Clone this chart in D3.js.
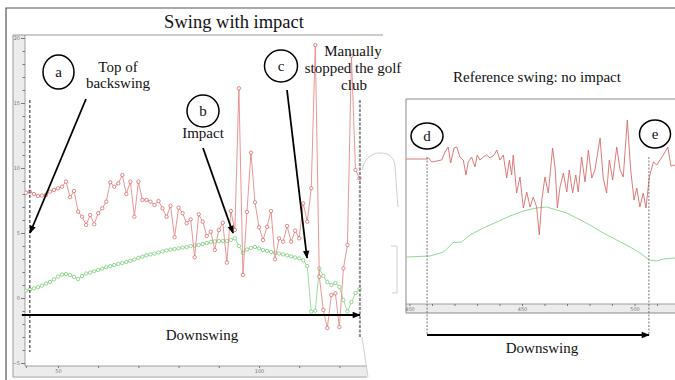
<!DOCTYPE html>
<html>
<head>
<meta charset="utf-8">
<script src="https://cdn.jsdelivr.net/npm/d3@7"></script>
<style>
  body { margin: 0; background: #fff; }
  svg { display: block; }
  .serif { font-family: "Liberation Serif", "Times New Roman", serif; fill: #111; }
  .tick text { font-family: "DejaVu Sans", sans-serif; }
</style>
</head>
<body>
<svg id="chart" width="675" height="380"></svg>
<script>
// ---------------- data ----------------
// Swing with impact: one sample per frame
const impactSamples = d3.range(42, 126);
const impactRed = [
  8.10, 8.18, 8.00, 7.85, 7.88, 7.92, 8.18, 8.31, 8.44, 8.56,
  8.95, 7.75, 8.23, 6.64, 6.25, 5.62, 6.38, 5.67, 6.52, 6.90,
  7.41, 8.90, 8.56, 8.82, 9.46, 8.00, 8.95, 6.25, 8.95, 7.54,
  7.54, 7.41, 7.15, 7.46, 6.90, 6.25, 7.10, 4.67, 6.95, 6.52,
  5.75, 6.05, 3.13, 6.44, 5.87, 4.77, 5.10, 3.69, 5.23, 5.79,
  2.72, 6.69, 5.23, 16.13, 1.77, 6.62, 11.18, 7.36, 5.44, 4.46,
  5.48, 6.69, 2.98, 4.59, 4.33, 5.54, 4.33, 5.18, 4.59, 7.28,
  5.87, 8.44, 19.46, 1.64, -0.92, -2.31, 0.23, 0.36, -2.23, 2.28,
  4.08, 18.62, 9.85, 9.21
];
const impactGreen = [
  0.56, 0.65, 0.75, 0.83, 0.95, 1.11, 1.23, 1.44, 1.65, 1.80,
  1.85, 1.77, 1.62, 1.46, 1.69, 1.88, 1.96, 2.06, 2.15, 2.26,
  2.37, 2.45, 2.54, 2.62, 2.69, 2.77, 2.85, 2.96, 3.08, 3.18,
  3.28, 3.35, 3.42, 3.50, 3.58, 3.66, 3.72, 3.77, 3.82, 3.88,
  3.92, 4.00, 4.04, 4.08, 4.15, 4.23, 4.31, 4.35, 4.38, 4.38,
  4.38, 4.46, 4.59, 4.00, 3.46, 3.73, 3.85, 3.92, 3.81, 3.69,
  3.62, 3.54, 3.48, 3.42, 3.35, 3.28, 3.20, 3.12, 3.05, 2.90,
  2.46, -1.05, -0.98, 2.28, 1.69, 1.23, 1.00, 1.15, 0.85, -0.15,
  -1.05, -0.31, 0.38, 0.67
];
const impactXLabels = [50, 100];
const impactYLabels = [-5, 0, 5, 10, 15, 20];
const impactStart = 43.0;   // top of backswing
const impactStop = 125.1;   // club stopped

// Reference swing (no impact)
const refRedX = [
  398.4, 407.9, 408.5, 409.9, 412.1, 414.3, 415.8, 417.2, 418.3, 419.8,
  421.0, 422.4, 423.9, 425.1, 426.1, 427.6, 429.1, 430.1, 431.3, 432.8,
  434.3, 435.8, 437.6, 438.8, 440.2, 441.7, 443.2, 444.4, 445.4, 446.1,
  447.6, 449.1, 450.6, 452.1, 453.6, 455.0, 456.5, 457.7, 458.8, 460.2,
  461.7, 463.6, 464.8, 465.7, 466.9, 468.4, 469.9, 471.0, 472.5, 473.9,
  475.0, 476.5, 478.0, 479.5, 481.0, 482.4, 484.7, 486.1, 487.6, 488.8,
  490.3, 492.1, 493.6, 495.0, 496.8, 498.3, 499.8, 501.0, 502.4, 503.9,
  505.1, 506.6, 508.4, 509.9, 511.3, 512.8, 514.8, 516.2, 518.0
];
const refRed = [
  12.1, 12.1, 12.2, 11.8, 11.9, 12.0, 12.8, 13.3, 11.7, 13.2,
  13.3, 12.3, 12.0, 10.5, 11.8, 12.3, 11.3, 12.5, 12.0, 12.3,
  12.5, 12.2, 12.5, 13.0, 12.0, 12.5, 10.2, 12.0, 10.5, 12.5,
  8.7, 10.3, 7.2, 8.8, 7.3, 8.3, 7.3, 4.5, 8.0, 10.3,
  8.7, 13.2, 11.0, 7.2, 9.3, 10.7, 8.8, 11.0, 8.7, 10.5,
  8.8, 12.3, 9.8, 13.0, 10.2, 11.0, 14.2, 10.2, 8.7, 12.0,
  10.0, 13.3, 11.0, 10.3, 16.0, 11.0, 8.0, 9.2, 7.3, 8.7,
  7.2, 10.3, 11.8, 11.5, 12.0, 12.5, 13.3, 11.4, 11.5
];
const refGreenX = [
  398.4, 409.1, 415.0, 418.0, 419.3, 423.2, 426.9, 432.8, 438.8, 444.7,
  450.6, 456.5, 461.0, 465.4, 469.9, 474.3, 480.2, 486.1, 492.1, 498.0,
  502.4, 506.6, 509.9, 512.8, 518.0
];
const refGreen = [
  2.3, 2.4, 2.8, 3.4, 3.75, 3.8, 4.5, 5.2, 5.8, 6.4,
  6.9, 7.2, 7.3, 7.0, 6.7, 6.2, 5.5, 4.7, 4.0, 3.3,
  2.7, 2.0, 1.9, 2.1, 2.2
];
const refXLabels = [400, 450, 500];
const refStart = 407.8;
const refEnd = 506.4;

// ---------------- colours ----------------
const RED_LINE = "#e58a8a", RED_DOT = "#d45a5a";
const GREEN_LINE = "#93d993", GREEN_DOT = "#6cc56c";

const svg = d3.select("#chart");
const defs = svg.append("defs");
defs.append("marker")
  .attr("id", "arrow").attr("viewBox", "0 0 10 10")
  .attr("refX", 9).attr("refY", 5)
  .attr("markerWidth", 9).attr("markerHeight", 8)
  .attr("markerUnits", "userSpaceOnUse").attr("orient", "auto")
  .append("path").attr("d", "M0,1L10,5L0,9Z").attr("fill", "#000");

// outer frame
svg.append("path").attr("d", "M6,380V8H675")
  .attr("fill", "none").attr("stroke", "#555").attr("stroke-width", 1.2);

// ================= left window: swing with impact =================
const xL = d3.scaleLinear().domain([50, 100]).range([58, 259]);
const yL = d3.scaleLinear().domain([0, 20]).range([298, 38]);

svg.append("rect").attr("x", 13).attr("y", 35).attr("width", 12).attr("height", 341).attr("fill", "#ececec");
svg.append("rect").attr("x", 13).attr("y", 366).attr("width", 354).attr("height", 10).attr("fill", "#ececec");
svg.append("path").attr("d", "M383,35H13V377H367")
  .attr("fill", "none").attr("stroke", "#9a9a9a").attr("stroke-width", 1);
svg.append("path").attr("d", "M25,35V366H367")
  .attr("fill", "none").attr("stroke", "#8a8a8a").attr("stroke-width", 0.8);

// y axis: labelled every 5, minor ticks every unit
const gyMinor = svg.append("g").attr("transform", "translate(25,0)")
  .call(d3.axisLeft(yL).tickValues(d3.range(-5, 21).filter(v => v % 5 !== 0)).tickSize(2.5).tickFormat(""));
const gy = svg.append("g").attr("transform", "translate(25,0)")
  .call(d3.axisLeft(yL).tickValues(impactYLabels).tickSize(4).tickPadding(1));
[gy, gyMinor].forEach(g => {
  g.select(".domain").remove();
  g.selectAll("line").attr("stroke", "#777");
  g.selectAll("text").attr("font-size", 5).attr("fill", "#777");
});

// x axis
const gx = svg.append("g").attr("transform", "translate(0,366)")
  .call(d3.axisBottom(xL).tickValues([impactSamples[0]].concat(d3.range(50, 121, 10))).tickSize(2).tickPadding(1)
    .tickFormat(d => impactXLabels.includes(d) ? d : ""));
gx.select(".domain").remove();
gx.selectAll("line").attr("stroke", "#777");
gx.selectAll("text").attr("font-size", 5).attr("fill", "#777");

defs.append("clipPath").attr("id", "clipL").append("rect")
  .attr("x", 25).attr("y", 35).attr("width", 345).attr("height", 331);
const plotL = svg.append("g").attr("clip-path", "url(#clipL)");

function series(g, xs, ys, x, y, lineColor, dotColor, dots) {
  const pts = xs.map((d, i) => [d, ys[i]]);
  g.append("path").datum(pts)
    .attr("d", d3.line().x(d => x(d[0])).y(d => y(d[1])))
    .attr("fill", "none").attr("stroke", lineColor).attr("stroke-width", 0.9);
  if (dots) {
    g.selectAll(null).data(pts).enter().append("circle")
      .attr("cx", d => x(d[0])).attr("cy", d => y(d[1])).attr("r", 1.7)
      .attr("fill", "#fff").attr("stroke", dotColor).attr("stroke-width", 0.7);
  }
}
series(plotL, impactSamples, impactGreen, xL, yL, GREEN_LINE, GREEN_DOT, true);
series(plotL, impactSamples, impactRed, xL, yL, RED_LINE, RED_DOT, true);

// start / stop markers
svg.append("line").attr("x1", xL(impactStart)).attr("x2", xL(impactStart)).attr("y1", 100).attr("y2", 352)
  .attr("stroke", "#222").attr("stroke-width", 1).attr("stroke-dasharray", "3,2");
svg.append("line").attr("x1", xL(impactStop)).attr("x2", xL(impactStop)).attr("y1", 100).attr("y2", 337)
  .attr("stroke", "#8c8c8c").attr("stroke-width", 2).attr("stroke-dasharray", "3,1.5");

// magnifier outline between the two windows
const ghost = svg.append("g").attr("fill", "none").attr("stroke", "#c9c9c9").attr("stroke-width", 0.9);
ghost.append("path").attr("d", "M362,170C364,160 370,153 380,153C390,153 394,158 395,166C396,180 397,195 398,207");
ghost.append("path").attr("d", "M391,246H397V293H392");
ghost.append("path").attr("d", "M362,337L368,377");

// annotations
function arrow(x1, y1, x2, y2) {
  svg.append("line").attr("x1", x1).attr("y1", y1).attr("x2", x2).attr("y2", y2)
    .attr("stroke", "#000").attr("stroke-width", 1.8).attr("marker-end", "url(#arrow)");
}
function label(txt, x, y, size) {
  svg.append("text").attr("class", "serif").attr("x", x).attr("y", y)
    .attr("text-anchor", "middle").attr("font-size", size).text(txt);
}
function badge(letter, cx, cy, rx, ry) {
  svg.append("ellipse").attr("cx", cx).attr("cy", cy).attr("rx", rx).attr("ry", ry)
    .attr("fill", "none").attr("stroke", "#000").attr("stroke-width", 1.5);
  label(letter, cx, cy + 5, 15);
}

label("Swing with impact", 234, 28, 18.5);

arrow(xL(impactStart) - 8, 315, xL(impactStop), 315);
label("Downswing", 202, 340, 15);

badge("a", 58.5, 72, 15.5, 17);
label("Top of", 118, 72, 15);
label("backswing", 118, 88, 15);
arrow(86, 99, 30, 233);

badge("b", 203, 111, 16, 16);
label("Impact", 203, 138, 15);
arrow(203, 148, 233, 233);

badge("c", 281, 66, 16.5, 16);
label("Manually", 353, 56, 15);
label("stopped the golf", 353, 73, 15);
label("club", 354, 90, 15);
arrow(287, 90, 307, 258);

// ================= right window: reference swing =================
const xR = d3.scaleLinear().domain([400, 500]).range([409.5, 634.5]);
const yR = d3.scaleLinear().domain([-3.3, 18.1]).range([313, 99]);

svg.append("rect").attr("x", 406).attr("y", 304).attr("width", 269).attr("height", 9).attr("fill", "#ececec");
svg.append("path").attr("d", "M675,99H406V313H675")
  .attr("fill", "none").attr("stroke", "#8a8a8a").attr("stroke-width", 1);
svg.append("line").attr("x1", 406).attr("x2", 675).attr("y1", 304).attr("y2", 304)
  .attr("stroke", "#8a8a8a").attr("stroke-width", 0.8);

const gxR = svg.append("g").attr("transform", "translate(0,304)")
  .call(d3.axisBottom(xR).tickValues(d3.range(400, 521, 10)).tickSize(2).tickPadding(1)
    .tickFormat(d => refXLabels.includes(d) ? d : ""));
gxR.select(".domain").remove();
gxR.selectAll("line").attr("stroke", "#777");
gxR.selectAll("text").attr("font-size", 5).attr("fill", "#777");

defs.append("clipPath").attr("id", "clipR").append("rect")
  .attr("x", 406).attr("y", 99).attr("width", 269).attr("height", 205);
const plotR = svg.append("g").attr("clip-path", "url(#clipR)");
series(plotR, refGreenX, refGreen, xR, yR, "#86d486", GREEN_DOT, false);
series(plotR, refRedX, refRed, xR, yR, "#d86c6c", RED_DOT, false);

[refStart, refEnd].forEach(u => {
  svg.append("line").attr("x1", xR(u)).attr("x2", xR(u)).attr("y1", 157).attr("y2", 335)
    .attr("stroke", "#666").attr("stroke-width", 0.9).attr("stroke-dasharray", "2,1.5");
});

label("Reference swing: no impact", 537, 82, 15);
badge("d", 427, 136, 16, 13);
badge("e", 655, 134, 15.5, 14);
arrow(xR(refStart), 335, xR(refEnd), 335);
label("Downswing", 542, 353, 15);
</script>
</body>
</html>
